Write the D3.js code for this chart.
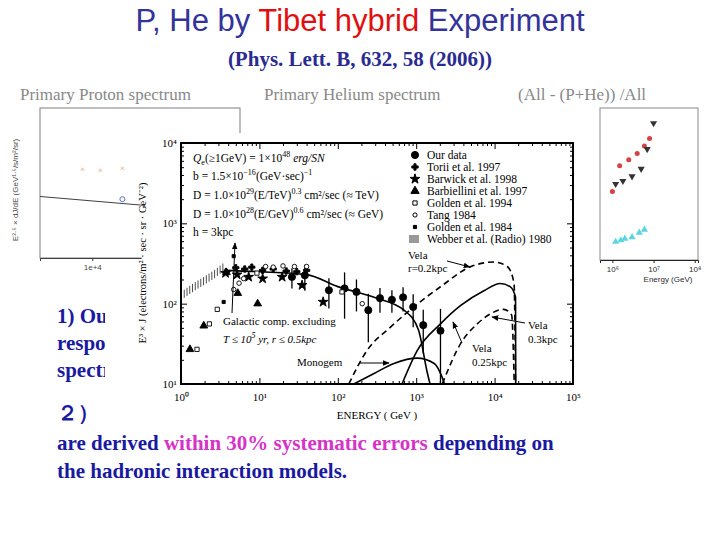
<!DOCTYPE html>
<html><head><meta charset="utf-8">
<script src="https://cdn.jsdelivr.net/npm/d3@7"></script>
<style>body{margin:0;background:#fff}svg{display:block}</style>
</head><body><div id="slide"></div>
<script>
// Données (énergie GeV, E^3 x J)
const ourData = [[26,215,60],[38,225,80],[77,147,60],[122,155,90],[173,140,60],[245,83,50],[345,117,40],[490,112,35],[680,120,40],[915,91,40],[1230,54,30],[2040,46,40]];
const torii = [[5,280],[6.5,270],[8,285],[11,260],[15,270],[22,255],[30,250],[40,260]];
const barwick = [[3.7,240],[5.2,230],[7.3,215],[11,205],[19.5,215],[35,170],[65,105]];
const barbiellini = [[3.8,245],[5.3,135],[9.5,100],[1.95,53],[1.3,27]];
const golden94 = [[2.9,85],[2.3,56],[1.6,27],[9.3,240],[113,140]];
const tang = [[4.7,150],[5.5,180],[6.3,205],[12,290],[15,285],[20,295],[28,290],[40,290],[205,100]];
const golden84 = [[3.5,105],[4.7,390]];
const webber = [[1.1,130],[1.5,160],[2,190],[2.7,230],[3.5,280]];
const galactic = [[3.5,260],[10,250],[40,230],[100,163],[290,120],[700,83],[1070,47],[1370,14.5],[1500,10]];
const vela02 = [[138,10],[235,26],[470,51],[930,91],[2000,160],[5000,290],[9800,330],[14500,290],[17700,180],[18500,10]];
const vela025 = [[660,10],[1030,26],[2040,56],[3700,95],[7300,145],[11800,178],[15900,162],[18500,120],[18600,10]];
const vela03 = [[2150,10],[3700,32],[6000,56],[8900,75],[13000,85],[16500,72],[17800,10]];
const monogem = [[160,10],[290,13.5],[520,18],[1030,21],[1700,18],[2150,12],[2300,10]];
const legendLabels = ["Our data","Torii et al. 1997","Barwick et al. 1998","Barbiellini et al. 1997","Golden et al. 1994","Tang 1984","Golden et al. 1984","Webber et al. (Radio) 1980"];
const xTicks = [1,10,100,1000,10000,100000];
const yTicks = [10,100,1000,10000];
// panneau proton (arrière-plan)
const protonPts = [[2e4,150],[4e4,130],[8e4,120],[1.5e5,85],[2.5e5,70]];
const ratioRed = [[1e6,0.45],[1.5e6,0.62],[2.5e6,0.66],[4e6,0.7],[6e6,0.75],[8e6,0.8]];
const ratioBlk = [[1.2e6,0.5],[1.8e6,0.52],[3e6,0.55],[5e6,0.6],[7e6,0.73],[1e7,0.9]];
const ratioCyan = [[1.2e6,0.12],[1.6e6,0.13],[2e6,0.14],[3e6,0.15],[4.5e6,0.18],[6e6,0.2]];

const W = 720, H = 540;
const svg = d3.select("#slide").append("svg").attr("width", W).attr("height", H);
const serif = "Liberation Serif, Times New Roman, serif";

// Titres
const t = svg.append("text").attr("x", 360).attr("y", 31).attr("text-anchor", "middle")
  .attr("font-family", "Liberation Sans, Arial").attr("font-size", 31);
t.append("tspan").attr("fill", "#33339a").text("P, He by ");
t.append("tspan").attr("fill", "#e01010").text("Tibet hybrid");
t.append("tspan").attr("fill", "#33339a").text(" Experiment");
svg.append("text").attr("x", 360).attr("y", 66).attr("text-anchor", "middle")
  .attr("font-family", serif).attr("font-weight", "bold").attr("font-size", 21)
  .attr("fill", "#2a2a90").text("(Phys. Lett. B, 632, 58 (2006))");
[["Primary Proton spectrum",20],["Primary Helium spectrum",264],["(All - (P+He)) /All",518]].forEach(([s,x]) =>
  svg.append("text").attr("x", x).attr("y", 100).attr("font-family", serif).attr("font-size", 17)
    .attr("fill", "#888").text(s));

// Panneau proton
const pp = svg.append("g").attr("opacity", 0.75);
const px = d3.scaleLog().domain([3e3, 3e5]).range([40, 240]);
const py = d3.scaleLog().domain([10, 1e4]).range([258, 108]);
pp.append("rect").attr("x", 40).attr("y", 108).attr("width", 200).attr("height", 150).attr("fill", "none").attr("stroke", "#555");
pp.append("g").attr("transform", "translate(0,258)").call(d3.axisBottom(px).tickValues([1e4,1e5]).tickFormat(d3.format(".0e")).tickSize(3))
  .attr("font-size", 8);
pp.append("path").attr("d", d3.line().x(d => px(d[0])).y(d => py(d[1]))([[3e3,170],[2.5e5,80]])).attr("stroke", "#000").attr("fill", "none");
pp.selectAll(".pc").data(protonPts).join("circle").attr("cx", d => px(d[0])).attr("cy", d => py(d[1])).attr("r", 2.5).attr("fill", "none").attr("stroke", "#2244aa");
pp.selectAll(".px").data([[8e3,520],[1.2e4,500],[2e4,540],[4e4,500],[8e4,500]]).join("text")
  .attr("x", d => px(d[0])).attr("y", d => py(d[1])).attr("font-size", 9).attr("fill", "#d07050").attr("text-anchor", "middle").text("×");
pp.append("text").attr("x", 18).attr("y", 190).attr("transform", "rotate(-90,18,190)").attr("font-size", 8).attr("font-family", "Liberation Sans").attr("text-anchor", "middle").text("E²·⁵ × dJ/dE (GeV¹·⁵/s/m²/sr)");

// Panneau rapport (droite)
const rx = d3.scaleLog().domain([5e5, 1.2e8]).range([600, 698]);
const ry = d3.scaleLinear().domain([0, 1]).range([260, 108]);
const rp = svg.append("g").attr("opacity", 0.85);
rp.append("rect").attr("x", 600).attr("y", 108).attr("width", 98).attr("height", 152).attr("fill", "none").attr("stroke", "#777");
rp.append("g").attr("transform", "translate(0,260)").call(d3.axisBottom(rx).tickValues([1e6,1e7,1e8]).tickFormat(d => "10" + "⁶⁷⁸"[Math.round(Math.log10(d)) - 6]).tickSize(3)).attr("font-size", 8);
rp.append("text").attr("x", 668).attr("y", 282).attr("font-size", 8).attr("font-family", "Liberation Sans").attr("text-anchor", "middle").text("Energy (GeV)");
rp.selectAll(".r").data(ratioRed).join("circle").attr("cx", d => rx(d[0])).attr("cy", d => ry(d[1])).attr("r", 2.5).attr("fill", "#d02020");
rp.selectAll(".b").data(ratioBlk).join("path").attr("d", d3.symbol(d3.symbolTriangle, 22)).attr("transform", d => `translate(${rx(d[0])},${ry(d[1])}) rotate(180)`).attr("fill", "#111");
rp.selectAll(".c").data(ratioCyan).join("path").attr("d", d3.symbol(d3.symbolTriangle, 22)).attr("transform", d => `translate(${rx(d[0])},${ry(d[1])})`).attr("fill", "#40d0d8");

// Texte du bas (début seulement, le reste est masqué par la figure)
const blue = "#1a1aa0";
const body = svg.append("g").attr("font-family", serif).attr("font-weight", "bold").attr("font-size", 21).attr("fill", blue);
body.append("text").attr("x", 57).attr("y", 323).text("1)  Ou");
body.append("text").attr("x", 57).attr("y", 350).text("respo");
body.append("text").attr("x", 57).attr("y", 377).text("spectr");
body.append("text").attr("x", 57).attr("y", 420).text("２）");
const l2 = body.append("text").attr("x", 57).attr("y", 450);
l2.append("tspan").text("are derived ");
l2.append("tspan").attr("fill", "#d633c8").text("within 30% systematic errors");
l2.append("tspan").text(" depending on");
body.append("text").attr("x", 57).attr("y", 478).text("the hadronic interaction models.");

// Figure superposée (spectre électrons)
svg.append("path").attr("d", "M150,133 H592 V428 H105 V282 H140 Z").attr("fill", "#fff");
const x = d3.scaleLog().domain([1, 1e5]).range([181, 573]);
const y = d3.scaleLog().domain([10, 1e4]).range([384, 143]);
const g = svg.append("g").attr("font-family", serif);
const sup = "⁰¹²³⁴⁵";
const fmt = d => "10" + sup[Math.round(Math.log10(d))];
const minorX = xTicks.slice(0, -1).flatMap(d => d3.range(2, 10).map(k => d * k));
const minorY = yTicks.slice(0, -1).flatMap(d => d3.range(2, 10).map(k => d * k));
[["axisBottom", 384, x, xTicks, minorX, fmt], ["axisTop", 143, x, xTicks, minorX, () => ""]].forEach(([a, ty, s, tv, mv, f]) => {
  g.append("g").attr("transform", `translate(0,${ty})`).call(d3[a](s).tickValues(tv).tickFormat(f).tickSizeInner(-6).tickSizeOuter(0))
    .call(e => e.selectAll("text").attr("font-family", serif).attr("font-size", 11).attr("dy", a === "axisBottom" ? "1.3em" : 0));
  g.append("g").attr("transform", `translate(0,${ty})`).call(d3[a](s).tickValues(mv).tickFormat("").tickSizeInner(-3).tickSizeOuter(0))
    .call(e => e.select(".domain").remove());
});
[["axisLeft", 181], ["axisRight", 573]].forEach(([a, tx]) => {
  g.append("g").attr("transform", `translate(${tx},0)`).call(d3[a](y).tickValues(yTicks).tickFormat(a === "axisLeft" ? fmt : () => "").tickSizeInner(-6).tickSizeOuter(0))
    .call(e => e.selectAll("text").attr("font-family", serif).attr("font-size", 11).attr("dx", "-0.1em"));
  g.append("g").attr("transform", `translate(${tx},0)`).call(d3[a](y).tickValues(minorY).tickFormat("").tickSizeInner(-3).tickSizeOuter(0))
    .call(e => e.select(".domain").remove());
});
g.append("rect").attr("x", 181).attr("y", 143).attr("width", 392).attr("height", 241).attr("fill", "none").attr("stroke", "#000").attr("stroke-width", 2);
g.append("text").attr("x", 377).attr("y", 419).attr("text-anchor", "middle").attr("font-size", 11).text("ENERGY ( GeV )");
g.append("text").attr("transform", "translate(146,263) rotate(-90)").attr("text-anchor", "middle").attr("font-size", 10.5)
  .text("E³ × J (electrons/m² · sec · sr · GeV⁻²)");

const clip = g.append("clipPath").attr("id", "cl").append("rect").attr("x", 181).attr("y", 143).attr("width", 392).attr("height", 241);
const plot = g.append("g").attr("clip-path", "url(#cl)");
const line = d3.line().x(d => x(d[0])).y(d => y(d[1])).curve(d3.curveMonotoneX);
[[galactic, null], [vela02, "6,4"], [vela025, null], [vela03, "6,4"], [monogem, null]].forEach(([d, da]) =>
  plot.append("path").attr("d", line(d)).attr("fill", "none").attr("stroke", "#000").attr("stroke-width", 1.6).attr("stroke-dasharray", da));
// Webber (bande hachurée)
const wb = d3.range(0, 1.0001, 0.07).map(f => Math.pow(10, f * Math.log10(3.5 / 1.1) + Math.log10(1.1)));
const wInterp = e => Math.pow(10, d3.scaleLinear().domain(webber.map(d => Math.log10(d[0]))).range(webber.map(d => Math.log10(d[1])))(Math.log10(e)));
plot.selectAll(".wb").data(wb).join("line").attr("x1", d => x(d)).attr("x2", d => x(d))
  .attr("y1", d => y(wInterp(d) * 1.15)).attr("y2", d => y(wInterp(d) / 1.1)).attr("stroke", "#000").attr("stroke-width", 0.7);
// Points
plot.selectAll(".eb").data(ourData).join("line").attr("x1", d => x(d[0])).attr("x2", d => x(d[0]))
  .attr("y1", d => y(d[1] + d[2])).attr("y2", d => y(Math.max(d[1] - d[2], 10))).attr("stroke", "#000").attr("stroke-width", 1.3);
const sym = (data, type, size, fill) => plot.selectAll(null).data(data).join("path")
  .attr("d", d3.symbol(type, size)).attr("transform", d => `translate(${x(d[0])},${y(d[1])})`)
  .attr("fill", fill ? "#000" : "#fff").attr("stroke", "#000").attr("stroke-width", 0.9);
sym(ourData, d3.symbolCircle, 40, true);
sym(torii, d3.symbolCross, 22, true);
sym(barwick, d3.symbolStar, 30, true);
sym(barbiellini, d3.symbolTriangle, 26, true);
sym(golden94, d3.symbolSquare, 18, false);
sym(tang, d3.symbolCircle, 16, false);
sym(golden84, d3.symbolSquare, 10, true);

// Légende
const leg = g.append("g");
const legSyms = [[d3.symbolCircle, 40, true], [d3.symbolCross, 22, true], [d3.symbolStar, 30, true], [d3.symbolTriangle, 30, true], [d3.symbolSquare, 18, false], [d3.symbolCircle, 14, false], [d3.symbolSquare, 10, true], null];
legendLabels.forEach((s, i) => {
  const yy = 159 + i * 12;
  const sy = legSyms[i];
  if (sy) leg.append("path").attr("d", d3.symbol(sy[0], sy[1])).attr("transform", `translate(415,${yy - 4})`)
    .attr("fill", sy[2] ? "#000" : "#fff").attr("stroke", "#000");
  else d3.range(5).forEach(k => leg.append("line").attr("x1", 410 + k * 2).attr("x2", 410 + k * 2).attr("y1", yy - 8).attr("y2", yy).attr("stroke", "#000").attr("stroke-width", 0.8));
  leg.append("text").attr("x", 427).attr("y", yy).attr("font-size", 11.5).text(s);
});
const ann = g.append("g").attr("font-size", 11);
const formulas = [
  ["Q", "e", "(≥1GeV) = 1×10", "48", " erg/SN"],
  ["b = 1.5×10", "−16", "(GeV·sec)", "−1", ""],
  ["D = 1.0×10", "29", "(E/TeV)", "0.3", " cm²/sec  (≈ TeV)"],
  ["D = 1.0×10", "28", "(E/GeV)", "0.6", " cm²/sec  (≈ GeV)"],
];
[162, 180, 199, 218].forEach((yy, i) => {
  const f = formulas[i];
  const tx = ann.append("text").attr("x", 193).attr("y", yy).attr("font-size", 11.5);
  if (i === 0) {
    tx.append("tspan").attr("font-style", "italic").text("Q");
    tx.append("tspan").attr("font-size", 8).attr("dy", 3).text("e");
    tx.append("tspan").attr("dy", -3).text(f[2]);
    tx.append("tspan").attr("font-size", 8).attr("dy", -5).text(f[3]);
    tx.append("tspan").attr("dy", 5).attr("font-style", "italic").text(f[4]);
  } else {
    tx.append("tspan").text(f[0]);
    tx.append("tspan").attr("font-size", 8).attr("dy", -5).text(f[1]);
    tx.append("tspan").attr("dy", 5).text(f[2]);
    tx.append("tspan").attr("font-size", 8).attr("dy", -5).text(f[3]);
    tx.append("tspan").attr("dy", 5).text(f[4]);
  }
});
ann.append("text").attr("x", 193).attr("y", 236).attr("font-size", 11.5).text("h = 3kpc");
[["Vela", 408, 259], ["r=0.2kpc", 408, 272], ["Galactic comp. excluding", 223, 325], ["Monogem", 297, 366],
 ["Vela", 472, 352], ["0.25kpc", 472, 366], ["Vela", 528, 329], ["0.3kpc", 528, 343]]
  .forEach(([s, xx, yy]) => ann.append("text").attr("x", xx).attr("y", yy).text(s));
const tl = ann.append("text").attr("x", 223).attr("y", 343).attr("font-style", "italic");
tl.append("tspan").text("T ≤ 10");
tl.append("tspan").attr("font-size", 8).attr("dy", -5).text("5");
tl.append("tspan").attr("dy", 5).text(" yr,  r ≤ 0.5kpc");
svg.append("defs").append("marker").attr("id", "ar").attr("viewBox", "0 0 10 10").attr("refX", 9).attr("refY", 5)
  .attr("markerWidth", 7).attr("markerHeight", 7).attr("orient", "auto").append("path").attr("d", "M0,1 L10,5 L0,9 Z");
[[447, 261, 470, 267], [232, 313, 235, 243], [360, 363, 389, 363], [462, 343, 453, 322], [525, 323, 492, 317]]
  .forEach(([a, b, c, d]) => ann.append("line").attr("x1", a).attr("y1", b).attr("x2", c).attr("y2", d)
    .attr("stroke", "#000").attr("marker-end", "url(#ar)"));
</script></body></html>
